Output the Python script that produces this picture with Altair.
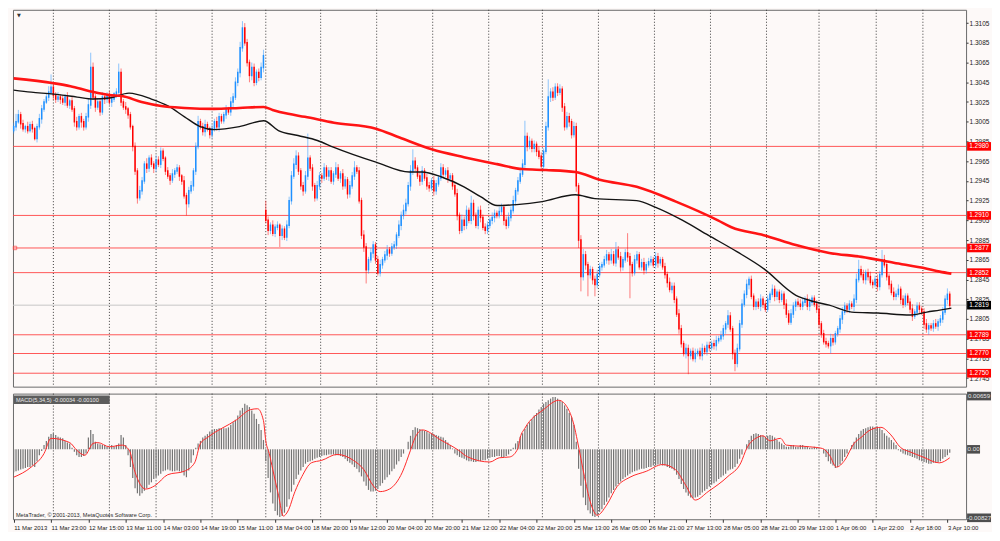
import altair as alt
import pandas as pd

# ---------------- data (prices in pips above 1.2700) ----------------
BASE = 1.27
CLOSE = [
300,305,312,303,298,300,296,302,298,288,
300,308,318,325,330,
335,340,332,328,330,
328,325,330,322,326,
318,305,300,310,305,
300,310,322,360,330,320,
325,315,330,328,
332,325,328,333,335,
355,325,320,318,312,
300,280,255,228,235,
245,262,258,268,262,
258,266,262,275,268,
255,250,246,252,255,
258,250,245,230,222,
235,240,255,280,305,
300,295,302,298,292,
298,305,300,310,306,
312,318,315,325,330,
345,355,380,400,385,
365,352,360,345,355,
350,360,372,
205,195,200,192,
198,200,190,196,188,200,
225,250,262,270,255,
240,235,250,268,258,
240,228,240,250,248,
258,250,255,245,252,
258,248,252,240,246,
232,240,250,258,255,
225,190,178,155,165,
172,180,165,152,160,
165,170,175,172,178,
180,190,200,210,215,
222,240,255,265,258,
250,245,255,248,240,
238,245,235,242,248,
258,252,255,248,250,
240,232,210,195,205,
200,215,205,222,210,
200,215,208,198,195,
200,205,208,212,210,
214,218,205,200,208,
215,225,235,245,252,
262,290,280,285,278,
282,275,270,260,275,
300,330,335,330,340,
335,338,320,300,310,
305,292,300,240,185,
148,170,160,150,155,
145,140,150,158,160,
165,170,165,170,162,
175,168,158,165,172,
168,160,152,165,170,
158,162,155,160,163,
165,160,168,162,165,
158,150,142,135,138,
125,110,95,80,70,
75,68,72,65,70,
72,68,75,72,78,
76,80,78,83,85,
88,95,100,108,95,
70,60,75,100,120,
130,140,145,128,118,
122,118,125,120,115,
125,130,135,128,132,
125,130,120,110,102,
110,118,122,120,118,
122,125,118,122,126,
120,115,100,90,82,
80,78,85,82,90,
95,105,112,118,115,
120,118,125,145,155,
150,145,152,148,142,
140,145,138,150,165,
160,148,140,132,128,
130,135,125,120,128,
122,115,108,112,118,
115,112,100,95,98,
96,100,98,102,105,
112,125,130,119]

UPPER = [
4,8,5,3,4,2,5,3,4,2,
3,5,4,3,4,
6,13,4,3,5,
3,4,3,5,2,
4,3,5,3,4,
3,4,6,15,5,3,
4,3,5,2,
3,4,3,2,4,
9,4,3,5,2,
3,2,4,3,5,
4,3,6,3,4,
3,5,4,4,3,
2,4,3,5,3,
4,3,2,5,3,
4,5,3,4,6,
3,4,5,3,2,
4,3,5,4,3,
3,4,2,5,4,
5,4,6,7,5,
4,3,5,4,3,
4,5,6,
10,4,3,5,
3,4,2,4,3,5,
4,5,6,6,4,
3,4,5,25,3,
4,3,5,4,3,
5,3,4,4,3,
6,4,3,5,4,
3,5,4,7,3,
4,3,5,4,3,
5,4,3,4,5,
3,4,5,3,4,
4,3,5,4,6,
5,4,6,12,4,
3,4,5,3,4,
4,3,5,4,3,
5,4,3,4,3,
3,4,5,3,6,
4,5,3,8,4,
3,4,5,3,4,
4,3,5,4,3,
5,4,3,4,5,
4,5,3,4,6,
5,16,4,5,3,
4,3,5,4,3,
5,18,4,5,4,
4,5,3,4,5,
4,3,5,4,3,
5,6,4,3,4,
3,4,5,4,3,
4,5,3,6,4,
8,4,5,3,4,
20,4,3,5,4,
3,4,5,3,4,
4,3,5,4,3,
3,4,3,5,4,
4,3,5,4,3,
5,4,3,4,5,
3,4,5,3,4,
4,3,4,5,3,
5,4,3,6,4,
3,4,5,4,5,
4,5,3,4,3,
3,4,5,3,4,
4,3,5,4,3,
3,4,3,5,4,
5,4,3,4,5,
4,3,5,4,3,
3,4,5,3,4,
4,3,5,4,3,
3,4,5,4,3,
4,3,5,6,10,
4,5,3,4,5,
3,4,5,4,10,
5,4,3,4,5,
4,5,3,4,3,
3,4,5,3,4,
4,3,4,5,3,
3,4,5,3,4,
5,4,6,3]

LOWER = [
3,4,2,5,3,4,3,2,4,2,
4,3,5,3,2,
4,3,5,4,3,
5,3,4,3,4,
3,5,4,3,6,
4,3,5,4,3,5,
3,4,3,5,
4,3,5,3,4,
3,4,3,5,4,
3,5,4,6,3,
4,3,5,4,3,
5,4,3,4,3,
4,3,5,3,4,
3,5,4,3,12,
4,3,5,4,3,
3,4,5,3,4,
4,3,4,5,3,
3,4,3,4,5,
3,4,5,4,3,
4,7,5,4,3,
4,3,5,
3,5,4,3,
4,3,12,5,3,4,
3,4,3,5,4,
4,5,3,4,3,
5,4,3,4,5,
3,4,5,3,4,
4,3,5,4,3,
5,4,3,4,3,
3,4,5,14,4,
3,5,4,3,4,
4,3,5,4,3,
3,4,3,5,4,
4,3,5,4,3,
3,5,4,3,4,
4,3,5,4,3,
3,4,3,5,4,
4,3,5,4,3,
5,4,3,4,5,
3,4,5,3,4,
4,3,4,5,3,
3,4,5,4,3,
4,3,5,4,3,
3,4,5,3,4,
4,5,3,4,3,
3,4,5,4,3,
4,3,5,4,3,
5,4,3,6,8,
15,4,5,22,4,
5,12,4,3,4,
3,4,5,4,3,
4,3,5,4,3,
5,34,4,3,4,
3,4,5,4,3,
4,3,4,5,3,
3,4,5,3,4,
4,3,5,4,3,
5,19,4,3,4,
3,4,5,3,4,
4,3,4,5,3,
3,4,5,4,3,
6,8,4,3,4,
3,4,5,3,4,
4,3,5,4,3,
3,4,3,5,4,
4,3,5,4,3,
3,4,5,3,4,
4,3,4,5,3,
3,4,5,4,3,
4,3,8,4,3,
3,4,5,3,4,
4,3,5,4,3,
3,4,5,4,3,
4,3,5,4,3,
3,4,5,3,4,
4,3,5,4,3,
3,4,5,3,4,
4,3,5,4,6,
3,4,3,5,4,
4,3,5,4]

GAP_OPEN = {0: 296, 108: 215}

RED_I = [0,17.2,24.3,32.6,41,46.4,54.8,63.2,73.2,85.8,96.7,107.1,110.9,117.6,124.7,137.2,155.2,165.3,179.1,192.9,
         207.1,218,228,240.6,251.5,266.9,283.7,301.7,307.5,321.3,335.1,349.4,363.2,377,391.2,396.7,401.7]
RED_P = [349,344,341,336,332,331,325,321,319,318,319,320,317,313,310,304,298,289,277,269,
         262,257,256,254,246,239,224,205,198,190,180,172,168,162,156,153,151]
BLK_I = [0,7.5,17.2,27.2,33.9,41,49.4,59,66.1,73.2,79.9,85.8,96.7,107.1,113.4,121.8,130.1,137.2,155.2,169.5,
         174.9,183.3,192.9,200,207.1,215.5,226.4,240.6,249,266.9,275.3,286.6,297.5,310,321.3,335.1,342.3,349.4,359,370.3,
         384.1,391.2,396.7,401.7]
BLK_P = [337,335,333,330,328,329,334,328,321,310,300,297,300,306,296,291,286,279,264,254,
         254,249,239,229,220,221,224,231,227,225,218,205,190,173,156,129,123,119,112,111,
         109,112,114,116]

# MACD histogram, units of 0.0001
MACD_HIST = [
-27,-26,-25,-24,-23, -22,-21,-21,-19,-21, -14,-7,-2,5, 10,15,18,19,17, 15,14,13,10,8,7,
2,-3,-7,-9,-9,-8,-5, 14,23,18, 9,7,6,5,5,3,3,5,3,5,7, 17,14, 5,-7,-21,
-34,-46,-52,-55,-52, -49,-46,-42,-39,-35,-33, -31,-29,-26,-25,-24, -25,-26,-26,-25,-26,-27,-31,-33,
-25,-16,-7,2,
7,10,14,16,18,21,23,24,24,25,25,25,25,26,29,32,35,40,46,49,54,
52,50,46,42,36,30,23,11,
-14,-34,-51,-64,-73,-78,-80,-79,-75, -68,-59,-50,-42,-35, -30,-25,-21,-17,-15,-14,
-13,-11,-10,-9,-8,-7,-7,-6,-6,-6,-7,-7,-8,-9,
-11,-14,-16,-18,-21,-23,-27, -32,-38,-43,-48,-50,-50,-49,-47, -43,-40,-36,-33,-30,-26,-23,-18,
-14,-9,-5,0,
9,16,23,26,25,24,23,22,21,19,19,18,17,16,15,14,11,8,5,1,
-5,-7,-9,-10,-11,-13,-14,-14,-15,-15,-14,-14,-13,-13,-11,-10,-9,-9,
-8,-8,-9,-9,-8,-6,-2,
2,7,10,15,19,24,29,32,36,40,43,47,50,54,56,58,60,62,62,60,58,56,52,48,43,38,29,
9,-23,-43,-57,-66,-72,-76,-79,-80,-78,
-74,-71,-66,-62,-57,-52,-48,-44,-41,-38,-35,-33,-31,
-29,-27,-26,-25,-24,-23,-23,-22,-21,-21,-19,-19,
-18,-18,-19,-19,-21,-22,-23,-25,
-30,-35,-41,-47,-51,-55,-57,-58,
-57,-56,-54,-51,-49,-47,-44,-42,-40,-38,-35,-33,-31,-29,-25,-24,-23,-21,-17,-11,-6,0,
6,11,16,18,19,18,17,16,15,16,17,16,14,11,9,7,5,
3,3,5,5,3,3,5,5,3,3,2,2,3,2,1,0,
-5,-9,-14,-17,-19,-22,-21,-18,-14,-9,
-5,0,5,9,14,
18,22,24,25,26,27,27,26,27,25,23,19,16,14,11,8,5,
-1,-3,-5,-6,-7,-8,-9,-10,-11,-13,-14,-15,-16,-17,-17,-16,-16,-15,-14,-11,-9,-7,-4]

SIG_I = [0,7.5,13,16,24,27,30.5,34,36,41,46.5,49.5,52,56.5,60.5,66,73,77.5,80,83,
         95.5,101.5,104.5,107,108,109.5,111,113.5,115.5,117.5,120.5,123.5,127.5,132,138.5,145.5,150,154,157,161,
         166.5,170,172,175,183,190.5,194.5,204,208,212.5,216,217,219,227,233.5,237.5,240,241.5,244.5,247,
         250,254,258.5,264,271,278,283.5,288,292,297.5,306,311.5,314,318.5,321,324,328.5,331,341,346.5,
         349.5,352.5,356,360,363,367,371.5,375.5,380,384,389.5,396.5,401]
SIG_V = [-33,-21,-5,13,8,-1,-7,7,8,3,5,-1,-27,-47,-43,-30,-26,-16,7,14,
         35,47,48,34,10,-5,-24,-55,-79,-73,-50,-32,-16,-13,-6,-13,-24,-43,-50,-47,
         -27,-1,14,23,11,-1,-9,-15,-10,-9,1,14,25,47,58,48,29,10,-32,-62,
         -78,-66,-44,-33,-26,-18,-24,-43,-60,-50,-32,-16,1,14,16,10,13,5,3,1,
         -7,-21,-13,7,14,23,26,18,2,-3,-9,-16,-10]

LEVELS_RED = [1.2980, 1.2910, 1.2877, 1.2852, 1.2789, 1.2770, 1.2750]
BID = 1.2819
Y_TICKS = [1.3105, 1.3085, 1.3065, 1.3045, 1.3025, 1.3005, 1.2985, 1.2965, 1.2945, 1.2925,
           1.2905, 1.2885, 1.2865, 1.2845, 1.2825, 1.2805, 1.2785, 1.2765, 1.2745]
X_IDX = [16 * k for k in range(26)]
X_LABELS = ['11 Mar 2013', '11 Mar 23:00', '12 Mar 15:00', '13 Mar 11:00', '14 Mar 03:00',
            '14 Mar 19:00', '15 Mar 11:00', '18 Mar 04:00', '18 Mar 20:00', '19 Mar 12:00',
            '20 Mar 04:00', '20 Mar 20:00', '21 Mar 12:00', '22 Mar 04:00', '22 Mar 20:00',
            '25 Mar 13:00', '26 Mar 05:00', '26 Mar 21:00', '27 Mar 13:00', '28 Mar 05:00',
            '28 Mar 21:00', '29 Mar 13:00', '1 Apr 06:00', '1 Apr 22:00', '2 Apr 18:00', '3 Apr 10:00']
GRID_IDX = [17, 41, 61, 85, 108, 131.5, 155.5, 179.5, 203.5, 226.5, 250.5, 274.5, 298.5,
            322.5, 345, 369.5, 389.5]
MACD_TITLE = 'MACD(5,34,5) -0.00034 -0.00100'
MACD_LABELS = ['0.00659', '0.00', '-0.00827']
COPYRIGHT = 'MetaTrader, © 2001-2013, MetaQuotes Software Corp.'

# ---------------- build tables ----------------
rows = []
prev = None
for i, (c, u, l) in enumerate(zip(CLOSE, UPPER, LOWER)):
    o = GAP_OPEN.get(i, prev if prev is not None else c)
    rows.append(dict(i=i, open=BASE + o / 1e4, close=BASE + c / 1e4,
                     high=BASE + (max(o, c) + u) / 1e4, low=BASE + (min(o, c) - l) / 1e4,
                     dir='up' if c >= o else 'down'))
    prev = c
candles = pd.DataFrame(rows)

W, HP, HM = 956, 378, 126
BG = '#fdf9f8'
FONT = 'Liberation Sans'
BOX = 'M-1,-0.36L1,-0.36L1,0.36L-1,0.36Z'
BOX_SMALL = 'M-1,-0.66L1,-0.66L1,0.66L-1,0.66Z'

XS = alt.Scale(domain=[-0.3, 408], nice=False, zero=False)
PS = alt.Scale(domain=[1.27364, 1.31185], nice=False, zero=False)
MS = alt.Scale(domain=[-82.7, 65.9], nice=False, zero=False)

YAX = alt.Axis(orient='right', values=Y_TICKS, format='.4f', labelFontSize=6.5, labelFont=FONT,
               labelColor='#222', tickColor='#333', tickSize=2, labelPadding=1, domain=False,
               grid=False, title=None, labelFlush=False, labelOverlap=False, labelBound=False)
lab_expr = '[' + ','.join("'%s'" % s for s in X_LABELS) + '][round(datum.value/16)]'
XAX = alt.Axis(values=X_IDX, labelExpr=lab_expr, labelAlign='left', labelFontSize=6, labelFont=FONT,
               labelColor='#222', tickColor='#333', tickSize=3, labelPadding=2, domain=False,
               grid=False, title=None, labelFlush=False, labelOverlap=False, labelBound=False)

CCOL = alt.Color('dir:N', scale=alt.Scale(domain=['up', 'down'], range=['#1e90ff', '#ff0000']), legend=None)


def xp(field, axis=None):
    return alt.X(field, type='quantitative', scale=XS, axis=axis, title=None)


def yp(field):
    return alt.Y(field, type='quantitative', scale=PS, axis=YAX, title=None)


def ym(field):
    return alt.Y(field, type='quantitative', scale=MS, axis=None, title=None)


grid_df = pd.DataFrame({'g': GRID_IDX})
lev_df = pd.DataFrame({'level': LEVELS_RED, 'lab': ['%.4f' % v for v in LEVELS_RED]})
bid_df = pd.DataFrame({'level': [BID], 'lab': ['%.4f' % BID]})
red_df = pd.DataFrame({'i': RED_I, 'p': [BASE + v / 1e4 for v in RED_P]})
blk_df = pd.DataFrame({'i': BLK_I, 'p': [BASE + v / 1e4 for v in BLK_P]})
one = pd.DataFrame({'t': ['▼']})

# ---------------- price panel ----------------
grid = alt.Chart(grid_df).mark_rule(color='#3a3a3a', strokeDash=[1, 2], strokeWidth=1).encode(x=xp('g'))
hlines = alt.Chart(lev_df).mark_rule(color='#ff4646', strokeWidth=1, opacity=0.9).encode(y=yp('level'))
bidline = alt.Chart(bid_df).mark_rule(color='#c6c6c6', strokeWidth=1).encode(y=yp('level'))
wicks = alt.Chart(candles).mark_rule(strokeWidth=1, strokeOpacity=0.5).encode(
    x=xp('i'), y=yp('low'), y2='high:Q', color=CCOL)
bodies = alt.Chart(candles).mark_rule(strokeWidth=1.5, strokeCap='square').encode(
    x=xp('i'), y=yp('open'), y2='close:Q', color=CCOL)
ma_red = alt.Chart(red_df).mark_line(color='#ff1414', strokeWidth=2.6, interpolate='monotone').encode(
    x=xp('i'), y=yp('p'))
ma_blk = alt.Chart(blk_df).mark_line(color='#141414', strokeWidth=1.4, interpolate='monotone').encode(
    x=xp('i'), y=yp('p'))
boxes = alt.Chart(lev_df).mark_point(shape=BOX, size=576, filled=True, fill='#ff0000', opacity=1,
                                     strokeWidth=0).encode(x=alt.value(W + 13), y=yp('level'))
box_txt = alt.Chart(lev_df).mark_text(color='#ffffff', fontSize=6.5, font=FONT, align='center',
                                      baseline='middle').encode(x=alt.value(W + 13), y=yp('level'), text='lab:N')
bid_box = alt.Chart(bid_df).mark_point(shape=BOX, size=576, filled=True, fill='#000000', opacity=1,
                                       strokeWidth=0).encode(x=alt.value(W + 13), y=yp('level'))
bid_txt = alt.Chart(bid_df).mark_text(color='#ffffff', fontSize=6.5, font=FONT, align='center',
                                      baseline='middle').encode(x=alt.value(W + 13), y=yp('level'), text='lab:N')
tri = alt.Chart(one).mark_text(fontSize=5, color='#333', font='DejaVu Sans').encode(
    x=alt.value(6), y=alt.value(5), text='t:N')
sq = alt.Chart(pd.DataFrame({'level': [1.2877]})).mark_point(shape='square', size=12, filled=False,
                                                             color='#ff4040', strokeWidth=1).encode(
    x=alt.value(2), y=yp('level'))

price = alt.layer(grid, hlines, bidline, wicks, bodies, ma_blk, ma_red, boxes, box_txt, bid_box, bid_txt,
                  tri, sq).properties(width=W, height=HP)

# ---------------- MACD panel ----------------
hist_df = pd.DataFrame({'i': list(range(len(MACD_HIST))), 'v': MACD_HIST, 'zero': [0] * len(MACD_HIST)})
sig_df = pd.DataFrame({'i': SIG_I, 'v': SIG_V})

grid2 = alt.Chart(grid_df).mark_rule(color='#3a3a3a', strokeDash=[1, 2], strokeWidth=1).encode(x=xp('g', XAX))
hist = alt.Chart(hist_df).mark_rule(color='#747474', strokeWidth=1.2).encode(
    x=xp('i', XAX), y=ym('zero'), y2='v:Q')
sig = alt.Chart(sig_df).mark_line(color='#ff2a2a', strokeWidth=1, interpolate='monotone').encode(
    x=xp('i', XAX), y=ym('v'))
tbox = alt.Chart(one).mark_rect(color='#5c5c5c').encode(
    x=alt.value(1), x2=alt.value(97), y=alt.value(2), y2=alt.value(10.5))
ttxt = alt.Chart(pd.DataFrame({'t': [MACD_TITLE]})).mark_text(
    align='left', baseline='middle', fontSize=5.6, font=FONT, color='#e8e8e8').encode(
    x=alt.value(3), y=alt.value(6.5), text='t:N')
mb_top = alt.Chart(pd.DataFrame({'v': [63.0], 'lab': [MACD_LABELS[0]]}))
mb_mid = alt.Chart(pd.DataFrame({'v': [0.0], 'lab': [MACD_LABELS[1]]}))
mb_bot = alt.Chart(pd.DataFrame({'v': [-81.0], 'lab': [MACD_LABELS[2]]}))
mlayers = []
for ch, shp, sz, cx in [(mb_top, BOX, 576, W + 13), (mb_mid, BOX_SMALL, 169, W + 7.5), (mb_bot, BOX, 576, W + 13)]:
    mlayers.append(ch.mark_point(shape=shp, size=sz, filled=True, fill='#4e4e4e', opacity=1,
                                 strokeWidth=0).encode(x=alt.value(cx), y=ym('v')))
    mlayers.append(ch.mark_text(color='#e6e6e6', fontSize=6.2, font=FONT, align='center',
                                baseline='middle').encode(x=alt.value(cx), y=ym('v'), text='lab:N'))
copy = alt.Chart(pd.DataFrame({'t': [COPYRIGHT]})).mark_text(
    align='left', baseline='middle', fontSize=5.6, font=FONT, color='#2a2a2a').encode(
    x=alt.value(3), y=alt.value(HM - 4), text='t:N')

macd = alt.layer(grid2, hist, sig, tbox, ttxt, *mlayers, copy).properties(width=W, height=HM)

chart = alt.vconcat(price, macd, spacing=3).properties(
    background=BG, padding=0
).configure_view(stroke='#6a6a6a', fill=BG).configure_axis(labelFont=FONT)

chart.save("out.html", embed_options={"renderer": "svg", "actions": False})
